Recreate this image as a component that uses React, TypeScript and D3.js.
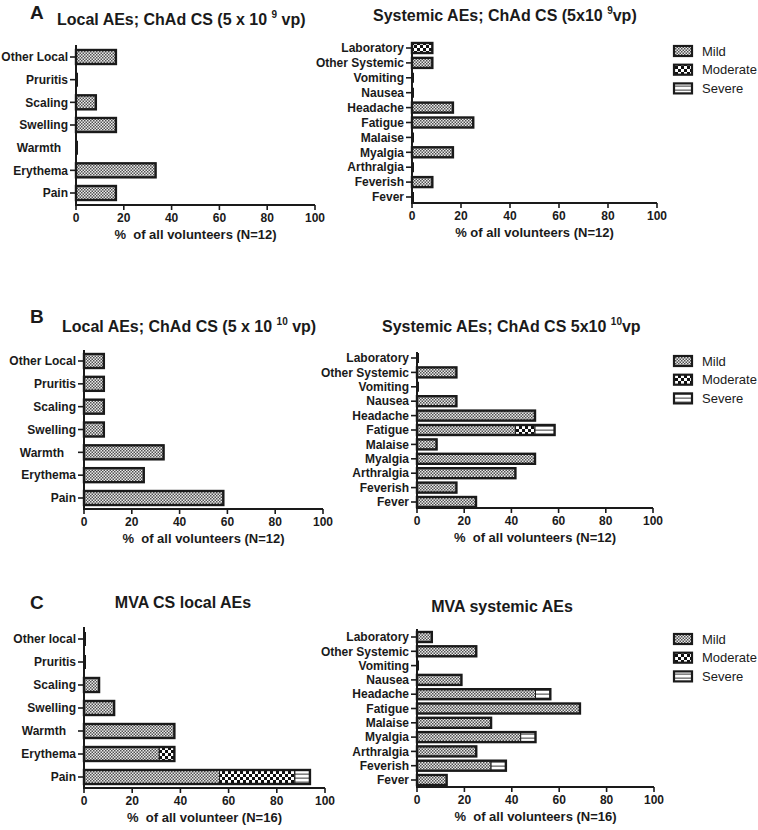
import React from "react";
import * as d3 from "d3";

// ---------- categories (top to bottom) ----------
const LOCAL_CATS = ["Other Local", "Pruritis", "Scaling", "Swelling", "Warmth", "Erythema", "Pain"];
const LOCAL_CATS_C = ["Other local", "Pruritis", "Scaling", "Swelling", "Warmth", "Erythema", "Pain"];
const SYS_CATS = ["Laboratory", "Other Systemic", "Vomiting", "Nausea", "Headache", "Fatigue", "Malaise", "Myalgia", "Arthralgia", "Feverish", "Fever"];
const X_TICKS = [0, 20, 40, 60, 80, 100];
const SEVERITIES = ["Mild", "Moderate", "Severe"];

// ---------- data (% of volunteers) ----------
const aLocalMild = [16.7, 0, 8.3, 16.7, 0, 33.3, 16.7];
const aLocalModerate = [0, 0, 0, 0, 0, 0, 0];
const aLocalSevere = [0, 0, 0, 0, 0, 0, 0];

const aSysMild = [0, 8.3, 0, 0, 16.7, 25, 0, 16.7, 0, 8.3, 0];
const aSysModerate = [8.3, 0, 0, 0, 0, 0, 0, 0, 0, 0, 0];
const aSysSevere = [0, 0, 0, 0, 0, 0, 0, 0, 0, 0, 0];

const bLocalMild = [8.3, 8.3, 8.3, 8.3, 33.3, 25, 58.3];
const bLocalModerate = [0, 0, 0, 0, 0, 0, 0];
const bLocalSevere = [0, 0, 0, 0, 0, 0, 0];

const bSysMild = [0, 16.7, 0, 16.7, 50, 41.7, 8.3, 50, 41.7, 16.7, 25];
const bSysModerate = [0, 0, 0, 0, 0, 8.3, 0, 0, 0, 0, 0];
const bSysSevere = [0, 0, 0, 0, 0, 8.3, 0, 0, 0, 0, 0];

const cLocalMild = [0, 0, 6.25, 12.5, 37.5, 31.25, 56.25];
const cLocalModerate = [0, 0, 0, 0, 0, 6.25, 31.25];
const cLocalSevere = [0, 0, 0, 0, 0, 0, 6.25];

const cSysMild = [6.25, 25, 0, 18.75, 50, 68.75, 31.25, 43.75, 25, 31.25, 12.5];
const cSysModerate = [0, 0, 0, 0, 0, 0, 0, 0, 0, 0, 0];
const cSysSevere = [0, 0, 0, 0, 6.25, 0, 0, 6.25, 0, 6.25, 0];

// ---------- layout ----------
type Seg = { t: string; sup?: boolean };
type Panel = {
  cats: string[];
  series: number[][];
  x0: number; x1: number; yTop: number; yBot: number; c0: number; c1: number; barH: number;
  xTitle: string;
  title: Seg[]; titleX: number; titleY: number; titleAnchor?: string;
  letter?: string; letterY?: number;
  legendY?: number;
  warmthShift?: number; warmthNoTick?: boolean;
};

const panels: Panel[] = [
  {
    cats: LOCAL_CATS, series: [aLocalMild, aLocalModerate, aLocalSevere],
    x0: 76, x1: 315, yTop: 45, yBot: 205, c0: 57, c1: 193, barH: 14,
    xTitle: "%  of all volunteers (N=12)",
    title: [{ t: "Local AEs; ChAd CS (5 x 10 " }, { t: "9", sup: true }, { t: " vp)" }],
    titleX: 57, titleY: 25, letter: "A", letterY: 19, warmthShift: 7, warmthNoTick: true,
  },
  {
    cats: SYS_CATS, series: [aSysMild, aSysModerate, aSysSevere],
    x0: 412, x1: 657, yTop: 42, yBot: 203, c0: 48, c1: 197, barH: 10,
    xTitle: "% of all volunteers (N=12)",
    title: [{ t: "Systemic AEs; ChAd CS (5x10 " }, { t: "9", sup: true }, { t: "vp)" }],
    titleX: 373, titleY: 21, legendY: 51,
  },
  {
    cats: LOCAL_CATS, series: [bLocalMild, bLocalModerate, bLocalSevere],
    x0: 84, x1: 323, yTop: 350, yBot: 509, c0: 361, c1: 498, barH: 14,
    xTitle: "%  of all volunteers (N=12)",
    title: [{ t: "Local AEs; ChAd CS (5 x 10 " }, { t: "10", sup: true }, { t: " vp)" }],
    titleX: 62, titleY: 332, letter: "B", letterY: 323, warmthShift: 12,
  },
  {
    cats: SYS_CATS, series: [bSysMild, bSysModerate, bSysSevere],
    x0: 417, x1: 653, yTop: 352, yBot: 508, c0: 358, c1: 502, barH: 10,
    xTitle: "%  of all volunteers (N=12)",
    title: [{ t: "Systemic AEs; ChAd CS 5x10 " }, { t: "10", sup: true }, { t: "vp" }],
    titleX: 382, titleY: 332, legendY: 361,
  },
  {
    cats: LOCAL_CATS_C, series: [cLocalMild, cLocalModerate, cLocalSevere],
    x0: 84, x1: 325, yTop: 627, yBot: 788, c0: 639, c1: 777, barH: 14,
    xTitle: "%  of all volunteer (N=16)",
    title: [{ t: "MVA CS local AEs" }],
    titleX: 183, titleY: 608, titleAnchor: "middle", letter: "C", letterY: 609, warmthShift: 10,
  },
  {
    cats: SYS_CATS, series: [cSysMild, cSysModerate, cSysSevere],
    x0: 417, x1: 654, yTop: 629, yBot: 787, c0: 637, c1: 780, barH: 10,
    xTitle: "%  of all volunteers (N=16)",
    title: [{ t: "MVA systemic AEs" }],
    titleX: 502, titleY: 612, titleAnchor: "middle", legendY: 639,
  },
];

const FILLS = ["url(#pMild)", "url(#pModerate)", "url(#pSevere)"];
const FONT = "Liberation Sans, Arial, sans-serif";
const INK = "#1a1a1a";

function PanelView({ p }: { p: Panel }) {
  const x = d3.scaleLinear().domain([0, 100]).range([p.x0, p.x1]);
  const y = d3.scalePoint<string>().domain(p.cats).range([p.c0, p.c1]);
  const stackData = p.cats.map((c, i) => ({ cat: c, Mild: p.series[0][i], Moderate: p.series[1][i], Severe: p.series[2][i] }));
  const stacked = d3.stack<any>().keys(SEVERITIES)(stackData);
  const totals = stackData.map((d) => d.Mild + d.Moderate + d.Severe);

  return (
    <g>
      {p.letter && (
        <text x={30} y={p.letterY} fontFamily={FONT} fontWeight="bold" fontSize={19} fill={INK}>{p.letter}</text>
      )}
      <text x={p.titleX} y={p.titleY} textAnchor={p.titleAnchor || "start"} fontFamily={FONT} fontWeight="bold" fontSize={16} fill={INK} xmlSpace="preserve">
        {p.title.map((s, i) =>
          s.sup ? (
            <tspan key={i} fontSize={10} dy={-7}>{s.t}</tspan>
          ) : (
            <tspan key={i} dy={i > 0 && p.title[i - 1].sup ? 7 : 0}>{s.t}</tspan>
          )
        )}
      </text>

      {/* bars */}
      {stacked.map((layer, li) =>
        layer.map((seg, ci) => {
          const w = x(seg[1]) - x(seg[0]);
          if (w <= 0) return null;
          return (
            <rect key={`${li}-${ci}`} x={x(seg[0])} y={(y(p.cats[ci]) as number) - p.barH / 2} width={w} height={p.barH}
              fill={FILLS[li]} stroke={INK} strokeWidth={1} />
          );
        })
      )}
      {p.cats.map((c, ci) =>
        totals[ci] > 0 ? (
          <rect key={"o" + c} x={x(0)} y={(y(c) as number) - p.barH / 2} width={x(totals[ci]) - x(0)} height={p.barH}
            fill="none" stroke={INK} strokeWidth={2.4} />
        ) : (
          <line key={"o" + c} x1={x(0) + 1} x2={x(0) + 1} y1={(y(c) as number) - p.barH / 2} y2={(y(c) as number) + p.barH / 2}
            stroke={INK} strokeWidth={2} />
        )
      )}

      {/* y axis */}
      <line x1={p.x0} x2={p.x0} y1={p.yTop} y2={p.yBot} stroke={INK} strokeWidth={2} />
      {p.cats.map((c) => {
        const isW = c === "Warmth";
        const shift = isW && p.warmthShift ? p.warmthShift : 0;
        return (
          <g key={"yt" + c}>
            {!(isW && p.warmthNoTick) && (
              <line x1={p.x0 - 6} x2={p.x0} y1={y(c)} y2={y(c)} stroke={INK} strokeWidth={1.6} />
            )}
            <text x={p.x0 - 8 - shift} y={(y(c) as number) + 4.2} textAnchor="end" fontFamily={FONT} fontWeight="bold" fontSize={12} fill={INK}>{c}</text>
          </g>
        );
      })}

      {/* x axis */}
      <line x1={p.x0 - 1} x2={p.x1} y1={p.yBot} y2={p.yBot} stroke={INK} strokeWidth={2} />
      {X_TICKS.map((t) => (
        <g key={"xt" + t}>
          <line x1={x(t)} x2={x(t)} y1={p.yBot} y2={p.yBot + 5} stroke={INK} strokeWidth={1.6} />
          <text x={x(t)} y={p.yBot + 17} textAnchor="middle" fontFamily={FONT} fontWeight="bold" fontSize={12} fill={INK}>{t}</text>
        </g>
      ))}
      <text x={(p.x0 + p.x1) / 2} y={p.yBot + 34} textAnchor="middle" fontFamily={FONT} fontWeight="bold" fontSize={13} fill={INK} xmlSpace="preserve">{p.xTitle}</text>

      {/* legend */}
      {p.legendY !== undefined &&
        SEVERITIES.map((s, i) => (
          <g key={"lg" + s}>
            <rect x={674} y={p.legendY! + i * 18.7 - 5} width={18} height={10} fill={FILLS[i]} stroke={INK} strokeWidth={2.2} />
            <text x={702} y={p.legendY! + i * 18.7 + 4.5} fontFamily={FONT} fontSize={13} fill={INK}>{s}</text>
          </g>
        ))}
    </g>
  );
}

export default function App() {
  return (
    <svg width={758} height={830} style={{ position: "absolute", left: 0, top: 0, background: "#fff" }}>
      <defs>
        <pattern id="pMild" patternUnits="userSpaceOnUse" width={3} height={3}>
          <rect width={3} height={3} fill="#ececec" />
          <rect x={0} y={0} width={1.5} height={1.5} fill="#505050" />
          <rect x={1.5} y={1.5} width={1.5} height={1.5} fill="#505050" />
        </pattern>
        <pattern id="pModerate" patternUnits="userSpaceOnUse" width={6} height={6}>
          <rect width={6} height={6} fill="#111" />
          <rect x={0} y={0} width={3} height={3} fill="#fff" />
          <rect x={3} y={3} width={3} height={3} fill="#fff" />
        </pattern>
        <pattern id="pSevere" patternUnits="userSpaceOnUse" width={4} height={4}>
          <rect width={4} height={4} fill="#fff" />
          <rect x={0} y={1.5} width={4} height={1.3} fill="#666" />
        </pattern>
      </defs>
      <rect width={758} height={830} fill="#fff" />
      {panels.map((p, i) => (
        <PanelView key={i} p={p} />
      ))}
    </svg>
  );
}
